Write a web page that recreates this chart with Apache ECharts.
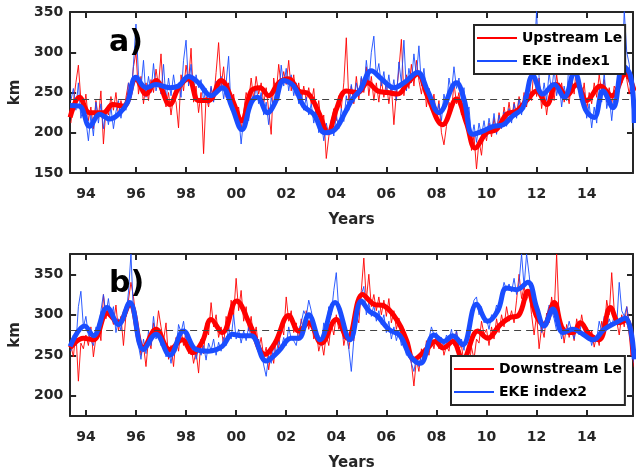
<!DOCTYPE html>
<html>
<head>
<meta charset="utf-8">
<script src="https://cdn.jsdelivr.net/npm/echarts@6/dist/echarts.min.js"></script>
<style>
  html, body { margin: 0; padding: 0; background: #fff; }
  #chart { width: 636px; height: 472px; }
</style>
</head>
<body>
<div id="chart"></div>
<script>
// thin (raw) series: one value every 0.1 year starting at 1993.4
const thinStart = 1993.4
const thinStep = 0.1

const upstreamLe = [
  212, 238, 262, 284, 241, 226,
  248, 215, 232, 205, 240, 218, 252, 186, 230, 222,
  245, 228, 250, 221, 240, 226, 244, 262, 245, 282,
  300, 248, 270, 236, 262, 240, 266, 250, 279, 258,
  298, 245, 232, 250, 222, 246, 238, 206, 272, 252,
  284, 262, 305, 238, 258, 225, 250, 174, 245, 232,
  256, 240, 275, 312, 258, 282, 244, 262, 230, 248,
  222, 232, 205, 226, 250, 238, 268, 242, 270, 248,
  262, 236, 256, 228, 198, 268, 248, 285, 258, 276,
  260, 290, 252, 272, 246, 262, 238, 258, 240, 256,
  236, 255, 218, 240, 210, 222, 168, 195, 212, 230,
  215, 246, 230, 262, 318, 240, 258, 236, 270, 242,
  268, 250, 282, 246, 270, 240, 262, 238, 266, 244,
  262, 236, 258, 210, 250, 278, 316, 246, 272, 255,
  285, 258, 290, 265, 248, 270, 232, 255, 228, 248,
  218, 240, 200, 185, 208, 238, 225, 262, 236, 250,
  222, 235, 205, 218, 178, 196, 155, 190, 172, 205,
  190, 212, 195, 218, 200, 225, 206, 232, 215, 238,
  215, 238, 222, 245, 228, 250, 232, 262, 240, 285,
  245, 268, 230, 252, 222, 246, 262, 240, 272, 250,
  262, 238, 252, 236, 268, 248, 290, 252, 240, 262,
  228, 250, 236, 262, 244, 272, 250, 266, 238, 256,
  236, 258, 250, 280, 262, 285, 266, 248, 270, 256
]
const ekeIndex1 = [
  240, 255, 228, 262, 218, 232,
  215, 190, 222, 196, 238, 212, 236, 205, 228, 210,
  232, 205, 226, 240, 218, 236, 228, 262, 244, 285,
  335, 272, 256, 290, 244, 270, 250, 286, 252, 266,
  248, 285, 240, 268, 246, 272, 250, 262, 244, 290,
  315, 258, 285, 250, 272, 256, 266, 240, 255, 236,
  258, 238, 264, 250, 270, 242, 262, 295, 228, 236,
  212, 222, 186, 218, 232, 215, 250, 238, 258, 236,
  250, 222, 238, 210, 244, 230, 262, 240, 284, 258,
  280, 252, 272, 246, 262, 236, 250, 228, 244, 222,
  236, 212, 230, 200, 215, 190, 212, 198, 216, 196,
  222, 205, 230, 214, 246, 228, 260, 238, 262, 246,
  270, 252, 290, 262, 300, 320, 270, 286, 258, 276,
  250, 272, 246, 266, 240, 288, 262, 315, 252, 280,
  262, 298, 270, 308, 258, 280, 250, 255, 232, 242,
  218, 236, 215, 248, 232, 268, 250, 282, 255, 268,
  240, 256, 222, 232, 192, 210, 188, 212, 196, 215,
  195, 218, 200, 224, 198, 222, 205, 226, 208, 230,
  212, 236, 218, 242, 222, 246, 235, 262, 276, 290,
  352, 268, 238, 262, 240, 275, 250, 280, 246, 262,
  232, 258, 240, 292, 262, 318, 256, 268, 236, 250,
  218, 236, 206, 232, 212, 256, 238, 275, 230, 246,
  215, 248, 238, 300, 262, 352, 300, 285, 240, 205
]
const downstreamLe = [
  262, 248, 280, 218, 265, 258,
  275, 262, 285, 248, 272, 290, 268, 325, 295, 310,
  300, 288, 312, 280, 298, 262, 300, 318, 340, 322,
  295, 275, 250, 262, 236, 270, 258, 290, 275, 305,
  285, 268, 290, 245, 262, 236, 272, 255, 282, 262,
  280, 252, 262, 240, 255, 228, 270, 252, 290, 275,
  315, 285, 300, 272, 285, 262, 298, 282, 318, 300,
  345, 305, 330, 292, 310, 280, 298, 270, 285, 258,
  272, 248, 260, 232, 255, 240, 272, 258, 288, 275,
  322, 292, 305, 278, 290, 268, 295, 278, 305, 282,
  298, 270, 280, 255, 268, 250, 276, 262, 290, 275,
  300, 282, 292, 262, 278, 258, 280, 268, 300, 290,
  330, 370, 318, 350, 310, 325, 305, 322, 300, 318,
  298, 320, 290, 305, 282, 296, 270, 282, 258, 266,
  240, 212, 245, 230, 258, 242, 268, 250, 272, 258,
  275, 258, 270, 250, 262, 255, 275, 262, 280, 258,
  262, 240, 252, 236, 260, 245, 270, 265, 292, 276,
  282, 262, 285, 270, 295, 278, 300, 285, 310, 292,
  305, 290, 318, 350, 320, 335, 318, 328, 300, 275,
  300, 258, 285, 272, 302, 290, 322, 300, 375, 295,
  290, 265, 288, 272, 285, 268, 295, 278, 300, 282,
  285, 268, 280, 260, 275, 262, 292, 280, 318, 300,
  352, 305, 292, 275, 300, 285, 310, 290, 255, 235
]
const ekeIndex2 = [
  255, 275, 262, 310, 329, 285,
  298, 275, 268, 262, 285, 282, 305, 325, 300, 320,
  295, 310, 278, 295, 280, 305, 298, 328, 375, 300,
  292, 262, 245, 270, 252, 280, 262, 298, 270, 280,
  262, 272, 248, 258, 240, 262, 255, 288, 278, 292,
  268, 275, 252, 262, 245, 258, 250, 262, 244, 265,
  256, 270, 250, 266, 255, 272, 262, 285, 270, 300,
  270, 282, 265, 280, 268, 285, 272, 278, 262, 270,
  255, 238, 224, 250, 240, 262, 252, 268, 258, 272,
  262, 285, 270, 268, 262, 282, 290, 305, 298, 318,
  305, 288, 270, 275, 262, 290, 282, 310, 300, 330,
  352, 305, 292, 270, 282, 258, 230, 270, 292, 310,
  325, 335, 300, 315, 298, 312, 292, 305, 288, 300,
  278, 292, 270, 285, 268, 280, 262, 270, 250, 252,
  240, 230, 248, 236, 250, 245, 262, 270, 285, 275,
  278, 268, 272, 262, 275, 268, 282, 265, 280, 262,
  270, 256, 275, 288, 305, 318, 322, 300, 310, 290,
  295, 282, 300, 298, 312, 305, 325, 340, 330, 338,
  328, 345, 325, 340, 375, 335, 375, 350, 320, 328,
  305, 295, 278, 290, 298, 312, 305, 295, 280, 288,
  270, 285, 278, 292, 280, 270, 288, 275, 290, 280,
  270, 278, 262, 275, 270, 292, 280, 298, 285, 295,
  285, 300, 288, 340, 305, 298, 310, 288, 260, 240
]

// smoothed series, [year, km]
const upstreamSmooth = [
  [1993.37, 219], [1993.75, 244], [1994.15, 225], [1994.7, 225], [1995.07, 235], [1995.5, 233],
  [1996, 267], [1996.4, 248], [1996.8, 265], [1997.35, 235], [1997.7, 256], [1998.1, 267],
  [1998.5, 240], [1998.9, 240], [1999.4, 265], [1999.83, 242], [2000.23, 215], [2000.6, 252],
  [2000.95, 256], [2001.3, 246], [2001.7, 262], [2002.1, 267], [2002.5, 252], [2002.9, 248],
  [2003.3, 225], [2003.67, 200], [2004, 229], [2004.4, 252], [2004.85, 250], [2005.25, 262],
  [2005.65, 252], [2006.05, 250], [2006.45, 248], [2006.85, 262], [2007.25, 273], [2007.65, 245],
  [2008.25, 210], [2008.8, 242], [2009.2, 212], [2009.55, 181], [2010, 200], [2010.4, 204],
  [2010.8, 223], [2011.2, 227], [2011.6, 240], [2012, 252], [2012.4, 235], [2012.8, 260],
  [2013.2, 246], [2013.6, 260], [2014, 240], [2014.55, 258], [2015, 246], [2015.55, 273], [2015.9, 252]
]
const eke1Smooth = [
  [1993.37, 234], [1993.75, 233], [1994.15, 208], [1994.55, 223], [1994.95, 217], [1995.3, 223],
  [1995.65, 237], [1996, 269], [1996.4, 256], [1996.8, 260], [1997.35, 256], [1997.7, 258],
  [1998.1, 270], [1998.5, 262], [1999, 246], [1999.45, 256], [1999.83, 232], [2000.23, 204],
  [2000.6, 237], [2000.85, 244], [2001.25, 225], [2001.55, 237], [2001.9, 265], [2002.3, 258],
  [2002.7, 233], [2003.1, 223], [2003.55, 200], [2003.95, 204], [2004.35, 225], [2004.65, 242],
  [2004.97, 254], [2005.4, 277], [2005.8, 267], [2006.3, 256], [2006.7, 262], [2007.25, 275],
  [2007.65, 252], [2008.1, 225], [2008.8, 262], [2009.1, 242], [2009.45, 198], [2009.85, 202],
  [2010.27, 208], [2010.67, 210], [2011.05, 221], [2011.45, 231], [2011.85, 271], [2012.25, 248],
  [2012.7, 260], [2013.1, 244], [2013.5, 275], [2013.95, 229], [2014.3, 219], [2014.65, 252],
  [2015.05, 231], [2015.45, 283], [2015.75, 271], [2015.9, 212]
]
const downstreamSmooth = [
  [1993.37, 259], [1993.9, 271], [1994.3, 269], [1994.85, 302], [1995.3, 290], [1995.75, 313],
  [1996.3, 259], [1996.8, 282], [1997.35, 257], [1997.85, 269], [1998.25, 253], [1998.65, 267],
  [1999, 294], [1999.45, 278], [2000.02, 317], [2000.55, 288], [2001.15, 251], [2001.55, 265],
  [2002.1, 299], [2002.5, 280], [2002.9, 290], [2003.4, 265], [2004, 294], [2004.45, 271],
  [2005.05, 325], [2005.5, 313], [2005.9, 311], [2006.45, 292], [2006.8, 269], [2007.1, 245],
  [2007.65, 259], [2007.95, 267], [2008.27, 259], [2008.65, 267], [2009.05, 245], [2009.65, 280],
  [2010.05, 271], [2010.5, 286], [2010.9, 296], [2011.3, 300], [2011.65, 329], [2012, 298],
  [2012.3, 288], [2012.7, 315], [2013.05, 282], [2013.45, 278], [2013.75, 290], [2014.1, 276],
  [2014.5, 269], [2014.95, 309], [2015.3, 290], [2015.6, 294], [2015.85, 249]
]
const eke2Smooth = [
  [1993.37, 261], [1993.95, 286], [1994.3, 274], [1994.85, 309], [1995.3, 288], [1995.75, 315],
  [1996.3, 257], [1996.8, 276], [1997.35, 250], [1997.9, 280], [1998.4, 257], [1998.9, 255],
  [1999.45, 261], [1999.85, 276], [2000.2, 274], [2000.6, 274], [2001.2, 243], [2001.7, 255],
  [2002.2, 271], [2002.5, 271], [2002.9, 300], [2003.35, 269], [2003.95, 315], [2004.55, 269],
  [2005, 317], [2005.3, 305], [2005.65, 298], [2006.1, 282], [2006.55, 274], [2006.95, 249],
  [2007.35, 240], [2007.9, 275], [2008.3, 267], [2008.65, 274], [2009.05, 263], [2009.6, 313],
  [2010.05, 292], [2010.45, 305], [2010.8, 333], [2011.2, 331], [2011.65, 340], [2012, 309],
  [2012.3, 286], [2012.65, 307], [2013.05, 278], [2013.45, 282], [2013.85, 276], [2014.25, 269],
  [2014.7, 282], [2015.15, 290], [2015.55, 296], [2015.9, 245]
]

const meanA = 242
const meanB = 280.5

const xTickYears = [1994, 1996, 1998, 2000, 2002, 2004, 2006, 2008, 2010, 2012, 2014]
const yTicksA = [150, 200, 250, 300, 350]
const yTicksB = [200, 250, 300, 350]

const RED = '#ff0000'
const BLUE = '#1a4dff'
const AX = '#262626'
const FONT = 'DejaVu Sans'

function thinPairs(vals) {
  return vals.map((v, i) => [+(thinStart + i * thinStep).toFixed(2), v])
}

function xAx(grid, pos) {
  const bottom = pos === 'bottom'
  return {
    type: 'value', gridIndex: grid, position: pos, min: 1993.37, max: 2015.85,
    name: bottom ? 'Years' : '', nameLocation: 'middle', nameGap: 40,
    nameTextStyle: { fontFamily: FONT, fontWeight: 'bold', fontSize: 15, color: AX },
    axisLine: { show: true, onZero: false, lineStyle: { color: AX, width: 2 } },
    axisTick: { show: true, inside: true, length: 6, customValues: xTickYears, lineStyle: { color: AX, width: 2 } },
    axisLabel: {
      show: bottom, margin: 14, customValues: xTickYears,
      fontFamily: FONT, fontWeight: 'bold', fontSize: 14, color: AX,
      formatter: v => String(Math.round(v) % 100).padStart(2, '0')
    },
    splitLine: { show: false }
  }
}

function yAx(grid, pos, min, max, ticks) {
  const left = pos === 'left'
  return {
    type: 'value', gridIndex: grid, position: pos, min: min, max: max,
    name: left ? 'km' : '', nameLocation: 'middle', nameGap: 43, nameRotate: 90,
    nameTextStyle: { fontFamily: FONT, fontWeight: 'bold', fontSize: 15, color: AX },
    axisLine: { show: true, onZero: false, lineStyle: { color: AX, width: 2 } },
    axisTick: { show: true, inside: true, length: 6, customValues: ticks, lineStyle: { color: AX, width: 2 } },
    axisLabel: {
      show: left, margin: 7, customValues: ticks,
      fontFamily: FONT, fontWeight: 'bold', fontSize: 14, color: AX
    },
    splitLine: { show: false }
  }
}

function thin(name, data, color, xi, mean) {
  const s = {
    name: name, type: 'line', xAxisIndex: xi, yAxisIndex: xi, data: thinPairs(data),
    symbol: 'none', color: color, lineStyle: { width: 1, color: color, opacity: 0.9 }, z: 2
  }
  if (mean !== undefined) {
    s.markLine = {
      silent: true, symbol: ['none', 'none'], label: { show: false },
      lineStyle: { type: [7, 5], color: '#444', width: 1 },
      data: [{ yAxis: mean }]
    }
  }
  return s
}

function thick(name, data, color, xi) {
  return {
    name: name, type: 'line', xAxisIndex: xi, yAxisIndex: xi, data: data,
    symbol: 'none', smooth: 0.4, color: color, lineStyle: { width: 5, color: color }, z: 3
  }
}

function legend(names, left, top) {
  return {
    data: names, orient: 'vertical', left: left, top: top,
    backgroundColor: '#fff', borderColor: AX, borderWidth: 2,
    padding: [6, 3, 6, 3], itemGap: 9, itemWidth: 40, itemHeight: 2, icon: 'rect',
    textStyle: { fontFamily: FONT, fontWeight: 'bold', fontSize: 14, color: '#000' }
  }
}

const chart = echarts.init(document.getElementById('chart'))
chart.setOption({
  animation: false,
  backgroundColor: '#fff',
  grid: [
    { left: 67, top: 12, width: 566, height: 161 },
    { left: 67, top: 254, width: 566, height: 162 }
  ],
  xAxis: [xAx(0, 'bottom'), xAx(0, 'top'), xAx(1, 'bottom'), xAx(1, 'top')],
  yAxis: [
    yAx(0, 'left', 150, 350, yTicksA), yAx(0, 'right', 150, 350, yTicksA),
    yAx(1, 'left', 175, 375, yTicksB), yAx(1, 'right', 175, 375, yTicksB)
  ],
  legend: [
    legend(['Upstream Le', 'EKE index1'], 474, 25),
    legend(['Downstream Le', 'EKE index2'], 451, 356)
  ],
  graphic: [
    { type: 'text', left: 109, top: 28, z: 10, style: { text: 'a)', fontFamily: FONT, fontWeight: 'bold', fontSize: 30, fill: '#000' } },
    { type: 'text', left: 109, top: 269, z: 10, style: { text: 'b)', fontFamily: FONT, fontWeight: 'bold', fontSize: 30, fill: '#000' } }
  ],
  series: [
    thin('Upstream Le', upstreamLe, RED, 0),
    thin('EKE index1', ekeIndex1, BLUE, 0, meanA),
    thick('Upstream Le smooth', upstreamSmooth, RED, 0),
    thick('EKE index1 smooth', eke1Smooth, BLUE, 0),
    thin('Downstream Le', downstreamLe, RED, 2),
    thin('EKE index2', ekeIndex2, BLUE, 2, meanB),
    thick('Downstream Le smooth', downstreamSmooth, RED, 2),
    thick('EKE index2 smooth', eke2Smooth, BLUE, 2)
  ]
})
</script>
</body>
</html>
